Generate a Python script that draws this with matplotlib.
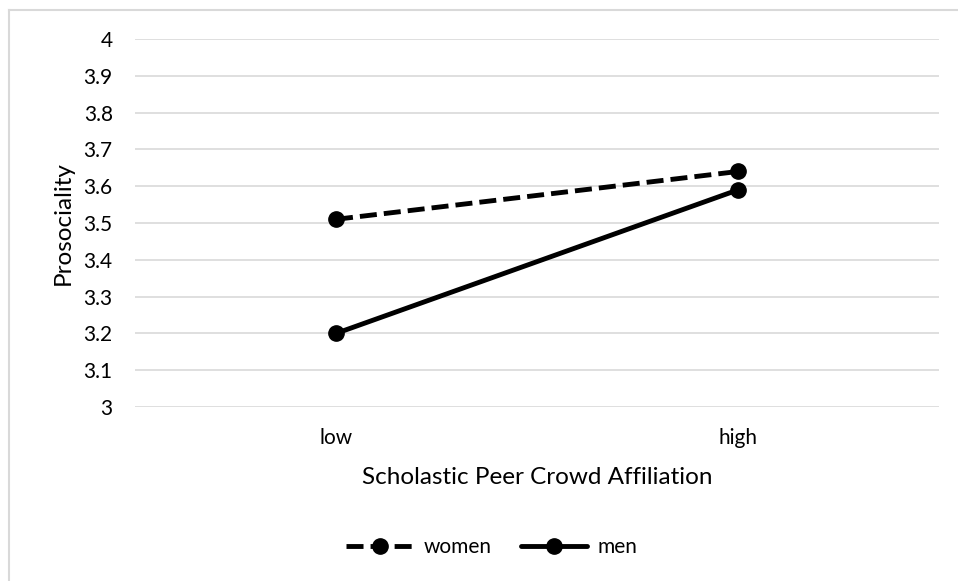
import matplotlib
matplotlib.use("Agg")
import matplotlib.pyplot as plt
from matplotlib.lines import Line2D

categories = ["low", "high"]
women = [3.51, 3.64]
men = [3.20, 3.59]
yticks = [3, 3.1, 3.2, 3.3, 3.4, 3.5, 3.6, 3.7, 3.8, 3.9, 4]
ytick_labels = ["3", "3.1", "3.2", "3.3", "3.4", "3.5", "3.6", "3.7", "3.8", "3.9", "4"]

plt.rcParams['font.family'] = ['Lato', 'DejaVu Sans']

W, H = 958, 581
fig = plt.figure(figsize=(W/100, H/100), dpi=100)
ax = fig.add_axes([135/W, 1-407/H, (939-135)/W, (407-39)/H])

# outer chart border (top and left visible)
fig.add_artist(Line2D([9/W, 9/W], [0, 1-10/H], color='#d9d9d9', lw=1.5, transform=fig.transFigure))
fig.add_artist(Line2D([9/W, 1], [1-10/H, 1-10/H], color='#d9d9d9', lw=1.5, transform=fig.transFigure))

x = list(range(len(categories)))
ax.plot(x, women, color='black', lw=3.5, linestyle=(0, (3.5, 1.45)), marker='o', markersize=11,
        label='women', solid_capstyle='round', dash_capstyle='butt')
ax.plot(x, men, color='black', lw=3.5, linestyle='-', marker='o', markersize=11,
        label='men', solid_capstyle='round')

ax.set_xlim(-0.5, 1.5)
ax.set_ylim(3, 4)
ax.set_yticks(yticks)
ax.set_yticklabels(ytick_labels)
ax.set_xticks(x)
ax.set_xticklabels(categories)
ax.tick_params(axis='both', length=0, labelsize=15, colors='#000000')
ax.tick_params(axis='y', pad=16)
ax.tick_params(axis='x', pad=15)
ax.grid(axis='y', color='#d9d9d9', lw=1.2)
ax.set_axisbelow(True)
for s in ax.spines.values():
    s.set_visible(False)

ax.set_xlabel("Scholastic Peer Crowd Affiliation", fontsize=17.5, labelpad=14)
ax.set_ylabel("Prosociality", fontsize=17.5, labelpad=7)

leg = fig.legend(loc='center', bbox_to_anchor=(492/W, 1-547/H), ncol=2, frameon=False,
                 fontsize=15, handlelength=3.2, columnspacing=1.4, handletextpad=0.5)

fig.savefig("out.png", dpi=100)
